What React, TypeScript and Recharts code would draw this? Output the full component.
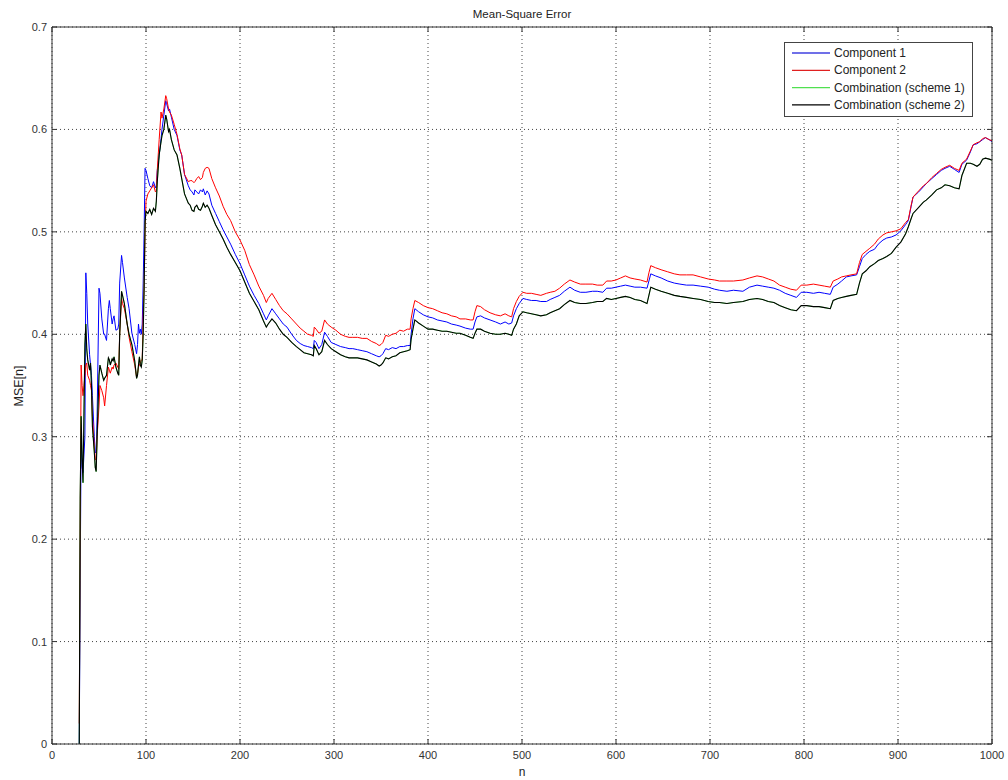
import React from "react";
import {
  LineChart,
  Line,
  XAxis,
  YAxis,
  CartesianGrid,
  Legend,
} from "recharts";

// Sample index n
const nValues = [
  29, 30, 31, 32, 33, 35, 36, 37, 38, 40, 41, 42, 43, 45, 46, 47, 48, 50, 51, 53,
  55, 56, 58, 60, 61, 62, 64, 65, 66, 68, 70, 71, 72, 74, 75, 77, 80, 82, 85, 88,
  90, 91, 92, 93, 94, 95, 96, 97, 98, 99, 100, 102, 104, 106, 108, 110, 111, 112, 114, 116,
  117, 119, 121, 122, 124, 125, 127, 130, 133, 136, 138, 141, 145, 147, 149, 151, 152, 154, 156, 158,
  160, 161, 163, 165, 167, 170, 174, 178, 182, 186, 190, 195, 200, 205, 210, 215, 220, 225, 228, 230,
  234, 238, 242, 246, 250, 255, 260, 264, 268, 272, 276, 278, 279, 281, 284, 287, 290, 293, 297, 302,
  307, 312, 316, 320, 325, 330, 335, 340, 345, 348, 350, 352, 355, 358, 362, 366, 370, 374, 378, 381,
  382, 384, 386, 390, 395, 400, 405, 410, 415, 420, 425, 430, 434, 440, 445, 448, 450, 452, 456, 460,
  466, 472, 477, 482, 486, 489, 491, 494, 497, 501, 505, 510, 515, 520, 526, 530, 535, 540, 545, 551,
  556, 562, 568, 575, 580, 586, 590, 595, 600, 605, 610, 615, 620, 626, 633, 635, 637, 642, 648, 655,
  662, 668, 675, 682, 690, 698, 705, 710, 718, 725, 735, 742, 750, 756, 762, 768, 774, 780, 786, 792,
  797, 803, 810, 816, 822, 828, 831, 836, 840, 845, 850, 856, 859, 862, 866, 870, 875, 879, 884, 888,
  893, 898, 903, 908, 911, 914, 916, 922, 927, 930, 936, 941, 946, 950, 955, 960, 965, 968, 973, 977,
  980, 984, 987, 990, 993, 997, 1000,
];

// MSE of component filter 1
const component1 = [
  0.0, 0.16, 0.3, 0.27, 0.265, 0.3, 0.46, 0.44, 0.41, 0.38, 0.37, 0.36, 0.34, 0.3, 0.285, 0.284, 0.32, 0.445, 0.44, 0.415,
  0.4, 0.4, 0.394, 0.425, 0.433, 0.425, 0.41, 0.415, 0.418, 0.404, 0.405, 0.41, 0.45, 0.477, 0.47, 0.455, 0.436, 0.425, 0.401, 0.39,
  0.381, 0.39, 0.41, 0.401, 0.405, 0.4, 0.41, 0.45, 0.5, 0.562, 0.56, 0.552, 0.545, 0.543, 0.549, 0.543, 0.545, 0.56, 0.575, 0.591,
  0.6, 0.614, 0.628, 0.625, 0.618, 0.62, 0.612, 0.6, 0.594, 0.58, 0.575, 0.556, 0.545, 0.541, 0.539, 0.536, 0.541, 0.539, 0.537, 0.541,
  0.539, 0.542, 0.536, 0.54, 0.537, 0.526, 0.518, 0.51, 0.502, 0.495, 0.488, 0.478, 0.469, 0.458, 0.447, 0.438, 0.43, 0.42, 0.414, 0.418,
  0.425, 0.42, 0.415, 0.41, 0.407, 0.4, 0.394, 0.391, 0.389, 0.388, 0.387, 0.386, 0.394, 0.392, 0.386, 0.39, 0.402, 0.398, 0.392, 0.39,
  0.388, 0.387, 0.386, 0.386, 0.385, 0.384, 0.383, 0.381, 0.379, 0.378, 0.379, 0.381, 0.386, 0.385, 0.387, 0.386, 0.388, 0.388, 0.389, 0.389,
  0.4, 0.415, 0.425, 0.422, 0.419, 0.417, 0.416, 0.414, 0.413, 0.412, 0.41, 0.409, 0.408, 0.406, 0.405, 0.405, 0.412, 0.417, 0.418, 0.416,
  0.414, 0.412, 0.41, 0.412, 0.41, 0.411, 0.418, 0.425, 0.43, 0.435, 0.434, 0.433, 0.433, 0.432, 0.432, 0.434, 0.436, 0.438, 0.442, 0.446,
  0.443, 0.441, 0.441, 0.442, 0.442, 0.441, 0.445, 0.445, 0.446, 0.447, 0.448, 0.447, 0.446, 0.446, 0.445, 0.452, 0.459, 0.457, 0.455, 0.452,
  0.45, 0.449, 0.448, 0.448, 0.447, 0.446, 0.444, 0.443, 0.442, 0.443, 0.442, 0.446, 0.448, 0.447, 0.446, 0.445, 0.443, 0.44, 0.438, 0.436,
  0.441, 0.441, 0.44, 0.441, 0.44, 0.439, 0.446, 0.449, 0.452, 0.456, 0.457, 0.458, 0.466, 0.474, 0.478, 0.481, 0.483, 0.488, 0.492, 0.494,
  0.495, 0.497, 0.501, 0.507, 0.511, 0.525, 0.534, 0.539, 0.544, 0.547, 0.552, 0.556, 0.56, 0.562, 0.564, 0.561, 0.558, 0.566, 0.57, 0.578,
  0.585, 0.586, 0.588, 0.59, 0.592, 0.59, 0.588,
];

// MSE of component filter 2
const component2 = [
  0.02, 0.21, 0.37, 0.35, 0.34, 0.36, 0.37, 0.372, 0.36, 0.355, 0.35, 0.345, 0.32, 0.29, 0.278, 0.277, 0.3, 0.33, 0.35, 0.345,
  0.338, 0.33, 0.35, 0.368, 0.365, 0.362, 0.368, 0.366, 0.37, 0.372, 0.368, 0.366, 0.4, 0.435, 0.43, 0.425, 0.41, 0.397, 0.383, 0.37,
  0.358, 0.362, 0.368, 0.37, 0.372, 0.375, 0.375, 0.42, 0.445, 0.5, 0.53, 0.537, 0.54, 0.543, 0.546, 0.539, 0.54, 0.56, 0.59, 0.617,
  0.611, 0.62, 0.633, 0.63, 0.62, 0.617, 0.614, 0.605, 0.595, 0.581, 0.575, 0.556, 0.549, 0.55, 0.55, 0.548, 0.549, 0.552, 0.554, 0.551,
  0.553, 0.558, 0.562, 0.563, 0.562, 0.552, 0.543, 0.535, 0.525, 0.517, 0.511, 0.5, 0.492, 0.482, 0.468, 0.458, 0.447, 0.438, 0.431, 0.435,
  0.44, 0.434, 0.428, 0.423, 0.42, 0.415, 0.41, 0.406, 0.403, 0.4, 0.399, 0.398, 0.407, 0.405, 0.401, 0.403, 0.414, 0.41, 0.407, 0.404,
  0.4, 0.398, 0.397, 0.397, 0.397, 0.396, 0.396, 0.393, 0.391, 0.389, 0.39, 0.392, 0.399, 0.398, 0.4, 0.401, 0.404, 0.403, 0.405, 0.405,
  0.415, 0.425, 0.433, 0.431, 0.428, 0.426, 0.425, 0.423, 0.421, 0.42, 0.418, 0.417, 0.415, 0.415, 0.414, 0.414, 0.422, 0.428, 0.427, 0.424,
  0.421, 0.419, 0.418, 0.42, 0.418, 0.417, 0.425, 0.432, 0.437, 0.441, 0.44, 0.44, 0.439, 0.438, 0.44, 0.441, 0.442, 0.445, 0.449, 0.453,
  0.451, 0.449, 0.449, 0.449, 0.448, 0.448, 0.452, 0.452, 0.453, 0.455, 0.457, 0.455, 0.454, 0.453, 0.451, 0.46, 0.467, 0.465, 0.463, 0.461,
  0.459, 0.458, 0.458, 0.458, 0.456, 0.454, 0.453, 0.452, 0.452, 0.452, 0.453, 0.455, 0.457, 0.456, 0.454, 0.452, 0.448, 0.446, 0.444, 0.443,
  0.448, 0.448, 0.449, 0.448, 0.447, 0.446, 0.452, 0.454, 0.456, 0.457, 0.458, 0.459, 0.47, 0.478, 0.481, 0.484, 0.488, 0.493, 0.497, 0.499,
  0.5, 0.501, 0.503, 0.509, 0.512, 0.526, 0.534, 0.54, 0.545, 0.547, 0.553, 0.557, 0.561, 0.563, 0.565, 0.562, 0.56, 0.567, 0.571, 0.579,
  0.585, 0.587, 0.588, 0.591, 0.592, 0.59, 0.589,
];

// MSE of the combination, scheme 2
const combination2 = [
  0.0, 0.24, 0.32, 0.28, 0.255, 0.39, 0.41, 0.385, 0.375, 0.365, 0.372, 0.35, 0.31, 0.285, 0.27, 0.266, 0.3, 0.36, 0.37, 0.362,
  0.355, 0.357, 0.36, 0.377, 0.375, 0.37, 0.376, 0.374, 0.378, 0.368, 0.362, 0.36, 0.4, 0.442, 0.438, 0.43, 0.41, 0.4, 0.39, 0.374,
  0.357, 0.36, 0.37, 0.378, 0.37, 0.368, 0.375, 0.4, 0.445, 0.51, 0.52, 0.518, 0.522, 0.517, 0.523, 0.52, 0.53, 0.549, 0.575, 0.588,
  0.594, 0.6, 0.614, 0.61, 0.598, 0.6, 0.59, 0.58, 0.575, 0.562, 0.552, 0.537, 0.528, 0.526, 0.521, 0.52, 0.524, 0.526, 0.522, 0.521,
  0.525, 0.528, 0.524, 0.526, 0.523, 0.516, 0.507, 0.5, 0.493, 0.485, 0.478, 0.47, 0.462, 0.451, 0.44, 0.432, 0.424, 0.413, 0.407, 0.41,
  0.415, 0.411, 0.405, 0.4, 0.397, 0.392, 0.388, 0.385, 0.382, 0.381, 0.38, 0.379, 0.389, 0.386, 0.38, 0.383, 0.394, 0.39, 0.386, 0.383,
  0.38, 0.378, 0.377, 0.377, 0.377, 0.376, 0.375, 0.373, 0.371, 0.369, 0.37, 0.372, 0.377, 0.376, 0.378, 0.379, 0.382, 0.383, 0.384, 0.385,
  0.395, 0.405, 0.414, 0.411, 0.408, 0.405, 0.405, 0.404, 0.403, 0.403, 0.402, 0.401, 0.401, 0.399, 0.397, 0.396, 0.401, 0.405, 0.405, 0.403,
  0.401, 0.4, 0.4, 0.401, 0.4, 0.399, 0.405, 0.41, 0.418, 0.422, 0.421, 0.42, 0.419, 0.418, 0.419, 0.421, 0.423, 0.425, 0.429, 0.433,
  0.431, 0.43, 0.43, 0.431, 0.432, 0.432, 0.435, 0.434, 0.435, 0.436, 0.437, 0.436, 0.434, 0.433, 0.43, 0.438, 0.446, 0.444, 0.442, 0.44,
  0.438, 0.437, 0.436, 0.435, 0.434, 0.432, 0.431, 0.431, 0.43, 0.431, 0.432, 0.434, 0.435, 0.434, 0.432, 0.431, 0.428, 0.426, 0.424, 0.423,
  0.428, 0.428, 0.427, 0.427, 0.426, 0.425, 0.433, 0.435, 0.436, 0.437, 0.438, 0.439, 0.45, 0.459, 0.462, 0.466, 0.469, 0.472, 0.474, 0.476,
  0.479, 0.485, 0.49, 0.498, 0.505, 0.513, 0.518, 0.524, 0.529, 0.531, 0.536, 0.541, 0.543, 0.546, 0.545, 0.543, 0.542, 0.555, 0.567, 0.567,
  0.566, 0.564, 0.566, 0.571, 0.572, 0.571, 0.57,
];

// Scheme 1 combination follows scheme 2 and is drawn underneath it
const combination1 = combination2;

const xTicks = [0, 100, 200, 300, 400, 500, 600, 700, 800, 900, 1000];
const yTicks = [0, 0.1, 0.2, 0.3, 0.4, 0.5, 0.6, 0.7];

const seriesNames = [
  "Component 1",
  "Component 2",
  "Combination (scheme 1)",
  "Combination (scheme 2)",
];
const seriesColors = ["#0000ff", "#ff0000", "#00ff00", "#000000"];
// Softer swatch tones used in the legend box
const legendColors = ["#4040e0", "#e02020", "#50e050", "#000000"];

const rows = nValues.map((n, i) => ({
  n,
  c1: component1[i],
  c2: component2[i],
  m1: combination1[i],
  m2: combination2[i],
}));

const FONT = "'Liberation Sans', Arial, Helvetica, sans-serif";
const AXIS_COLOR = "#333";
const TICK_LEN = 5;

// Plot box edges inside the 1008x780 surface
const BOX = { left: 52, right: 992, top: 27, bottom: 744 };

const BottomTick = (props: any) => {
  const { x, payload } = props;
  const y = BOX.bottom;
  return (
    <g>
      <line x1={x} y1={y} x2={x} y2={y - TICK_LEN} stroke={AXIS_COLOR} />
      <text
        x={x}
        y={y + 15}
        textAnchor="middle"
        fontSize={11}
        fontFamily={FONT}
        fill="#333"
      >
        {payload.value}
      </text>
    </g>
  );
};

const TopTick = (props: any) => {
  const { x } = props;
  const y = BOX.top;
  return <line x1={x} y1={y} x2={x} y2={y + TICK_LEN} stroke={AXIS_COLOR} />;
};

const LeftTick = (props: any) => {
  const { y, payload } = props;
  const x = BOX.left;
  return (
    <g>
      <line x1={x} y1={y} x2={x + TICK_LEN} y2={y} stroke={AXIS_COLOR} />
      <text
        x={x - 5}
        y={y + 4}
        textAnchor="end"
        fontSize={11}
        fontFamily={FONT}
        fill="#333"
      >
        {payload.value}
      </text>
    </g>
  );
};

const RightTick = (props: any) => {
  const { y } = props;
  const x = BOX.right;
  return <line x1={x} y1={y} x2={x - TICK_LEN} y2={y} stroke={AXIS_COLOR} />;
};

const LegendBox = () => {
  return (
    <div
      style={{
        width: 189,
        height: 75,
        boxSizing: "border-box",
        border: "1px solid #444",
        background: "#fff",
      }}
    >
      <svg width={187} height={73} style={{ display: "block" }}>
        {seriesNames.map((name, i) => {
          const cy = 10 + i * 17.3;
          return (
            <g key={name}>
              <line
                x1={7}
                x2={45}
                y1={cy}
                y2={cy}
                stroke={legendColors[i]}
                strokeWidth={1.3}
              />
              <text
                x={49}
                y={cy + 4}
                fontSize={12}
                fontFamily={FONT}
                fill="#222"
              >
                {name}
              </text>
            </g>
          );
        })}
      </svg>
    </div>
  );
};

export default function App() {
  return (
    <div
      style={{
        position: "absolute",
        left: 0,
        top: 0,
        width: 1008,
        height: 780,
        background: "#fff",
      }}
    >
      <LineChart
        width={1008}
        height={780}
        data={rows}
        margin={{ top: 17, right: 6, bottom: 6, left: 12 }}
      >
        <CartesianGrid
          stroke="#444"
          strokeDasharray="1 3"
          vertical
          horizontal
        />
        <XAxis
          dataKey="n"
          type="number"
          domain={[0, 1000]}
          ticks={xTicks}
          allowDataOverflow
          height={30}
          tickLine={false}
          tick={<BottomTick />}
          axisLine={{ stroke: AXIS_COLOR }}
          interval={0}
        />
        <XAxis
          xAxisId="top"
          orientation="top"
          dataKey="n"
          type="number"
          domain={[0, 1000]}
          ticks={xTicks}
          allowDataOverflow
          height={10}
          tickLine={false}
          tick={<TopTick />}
          axisLine={{ stroke: AXIS_COLOR }}
          interval={0}
        />
        <YAxis
          type="number"
          domain={[0, 0.7]}
          ticks={yTicks}
          allowDataOverflow
          width={40}
          tickLine={false}
          tick={<LeftTick />}
          axisLine={{ stroke: AXIS_COLOR }}
          interval={0}
        />
        <YAxis
          yAxisId="right"
          orientation="right"
          type="number"
          domain={[0, 0.7]}
          ticks={yTicks}
          allowDataOverflow
          width={10}
          tickLine={false}
          tick={<RightTick />}
          axisLine={{ stroke: AXIS_COLOR }}
          interval={0}
        />
        <Legend
          layout="vertical"
          align="center"
          verticalAlign="middle"
          content={<LegendBox />}
          wrapperStyle={{ left: 784, top: 42, width: 189, height: 75 }}
        />
        <Line
          type="linear"
          dataKey="c1"
          name={seriesNames[0]}
          stroke={seriesColors[0]}
          strokeWidth={1}
          dot={false}
          activeDot={false}
          isAnimationActive={false}
        />
        <Line
          type="linear"
          dataKey="c2"
          name={seriesNames[1]}
          stroke={seriesColors[1]}
          strokeWidth={1}
          dot={false}
          activeDot={false}
          isAnimationActive={false}
        />
        <Line
          type="linear"
          dataKey="m1"
          name={seriesNames[2]}
          stroke={seriesColors[2]}
          strokeWidth={0.6}
          dot={false}
          activeDot={false}
          isAnimationActive={false}
        />
        <Line
          type="linear"
          dataKey="m2"
          name={seriesNames[3]}
          stroke={seriesColors[3]}
          strokeWidth={1.1}
          dot={false}
          activeDot={false}
          isAnimationActive={false}
        />
        <text
          x={522}
          y={18}
          textAnchor="middle"
          fontSize={11.5}
          fontFamily={FONT}
          fill="#222"
        >
          Mean-Square Error
        </text>
        <text
          x={522}
          y={776}
          textAnchor="middle"
          fontSize={12}
          fontFamily={FONT}
          fill="#222"
        >
          n
        </text>
        <text
          x={23}
          y={386}
          textAnchor="middle"
          fontSize={12.5}
          fontFamily={FONT}
          fill="#222"
          transform="rotate(-90 23 386)"
        >
          MSE[n]
        </text>
      </LineChart>
    </div>
  );
}
